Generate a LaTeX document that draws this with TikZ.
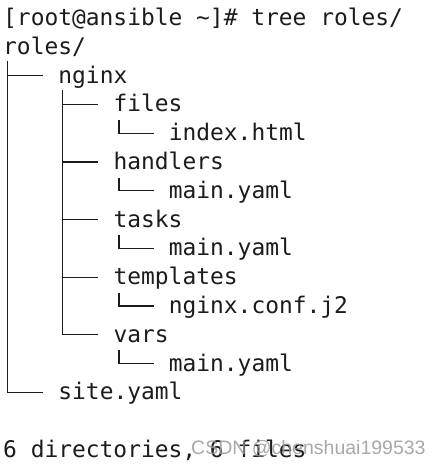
\documentclass[tikz,border=0pt]{standalone}
\usepackage{fontspec}
\newfontfamily\termfont{DejaVu Sans Mono}
\newfontfamily\markfont{Liberation Sans}
\definecolor{termtext}{HTML}{1C1C1C}
\definecolor{marktext}{HTML}{9A9A9A}

\begin{document}
\begin{tikzpicture}[x=1pt,y=-1pt]

        \useasboundingbox[fill=white] (0,0) rectangle (441,464);

        \begin{scope}[every node/.style={anchor=base west,inner sep=0pt,text=termtext,
            font=\termfont\fontsize{22.9}{28.8}\selectfont}]
          \node (prompt)    at (3,25.5)      {[root@ansible \textasciitilde]\# tree roles/};
          \node (roles)     at (3,54.3)      {roles/};
          \node (nginx)     at (58.2,83.1)   {nginx};
          \node (files)     at (113.4,111.9) {files};
          \node (index)     at (168.6,140.7) {index.html};
          \node (handlers)  at (113.4,169.5) {handlers};
          \node (hmain)     at (168.6,198.3) {main.yaml};
          \node (tasks)     at (113.4,227.1) {tasks};
          \node (tmain)     at (168.6,255.9) {main.yaml};
          \node (templates) at (113.4,284.7) {templates};
          \node (conf)      at (168.6,313.5) {nginx.conf.j2};
          \node (vars)      at (113.4,342.3) {vars};
          \node (vmain)     at (168.6,371.1) {main.yaml};
          \node (site)      at (58.2,399.9)  {site.yaml};
          \node (summary)   at (3,457.5)     {6 directories, 6 files};
        \end{scope}

        % watermark
        \node[anchor=base west,inner sep=0pt,text=marktext,opacity=.85,
          font=\markfont\fontsize{19.5}{22}\selectfont] (mark) at (191,454) {CSDN @chenshuai199533};

        \begin{scope}[line width=1.2pt,draw=termtext]
          % trunks
          \coordinate (t-roles)     at ([shift={(4.5pt,-7pt)}]roles.base west);
          \coordinate (t-nginx)     at ([shift={(4.5pt,-7pt)}]nginx.base west);
          \coordinate (t-files)     at ([shift={(5.5pt,-8pt)}]files.base west);
          \coordinate (t-handlers)  at ([shift={(5.5pt,-8pt)}]handlers.base west);
          \coordinate (t-tasks)     at ([shift={(5.5pt,-8pt)}]tasks.base west);
          \coordinate (t-templates) at ([shift={(5.5pt,-8pt)}]templates.base west);
          \coordinate (t-vars)      at ([shift={(5.5pt,-8pt)}]vars.base west);

          \draw (t-roles) |- ([shift={(-15pt,7.5pt)}]nginx.base west);
          \draw (t-roles) |- ([shift={(-15pt,7.5pt)}]site.base west);

          \draw (t-nginx) |- ([shift={(-15pt,7.5pt)}]files.base west);
          \draw (t-nginx) |- ([shift={(-15pt,7.5pt)}]handlers.base west);
          \draw (t-nginx) |- ([shift={(-15pt,7.5pt)}]tasks.base west);
          \draw (t-nginx) |- ([shift={(-15pt,7.5pt)}]templates.base west);
          \draw (t-nginx) |- ([shift={(-15pt,7.5pt)}]vars.base west);

          \draw (t-files)     |- ([shift={(-15pt,7.5pt)}]index.base west);
          \draw (t-handlers)  |- ([shift={(-15pt,7.5pt)}]hmain.base west);
          \draw (t-tasks)     |- ([shift={(-15pt,7.5pt)}]tmain.base west);
          \draw (t-templates) |- ([shift={(-15pt,7.5pt)}]conf.base west);
          \draw (t-vars)      |- ([shift={(-15pt,7.5pt)}]vmain.base west);
        \end{scope}

      \end{tikzpicture}
\end{document}
